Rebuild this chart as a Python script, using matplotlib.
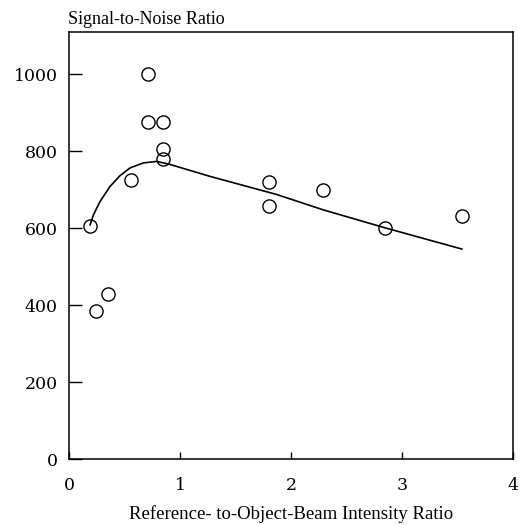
import matplotlib
matplotlib.use("Agg")
import matplotlib.pyplot as plt

# measured points
ratio = [0.19, 0.24, 0.35, 0.56, 0.71, 0.71, 0.85, 0.85, 0.85, 1.80, 1.80, 2.29, 2.85, 3.54]
snr = [605, 384, 430, 725, 1000, 877, 877, 806, 780, 720, 657, 699, 601, 633]

# fitted curve
fit_x = [0.19, 0.22, 0.28, 0.37, 0.46, 0.55, 0.67, 0.79, 0.91, 1.27, 1.87, 2.29, 2.85, 3.54]
fit_y = [609, 635, 670, 709, 737, 757, 770, 774, 766, 735, 688, 648, 601, 546]

xticks = [0, 1, 2, 3, 4]
yticks = [0, 200, 400, 600, 800, 1000]

fig = plt.figure(figsize=(5.31, 5.25), dpi=100)
ax = fig.add_axes([0.130, 0.1257, 0.836, 0.813])

ax.plot(fit_x, fit_y, color="black", lw=1.2)
ax.plot(ratio, snr, linestyle="none", marker="o", markersize=9.5,
        markerfacecolor="none", markeredgecolor="black", markeredgewidth=1.0)

ax.set_xlim(0, 4)
ax.set_ylim(0, 1110)
ax.set_xticks(xticks)
ax.set_yticks(yticks)
ax.tick_params(axis="x", direction="in", length=5, width=1, pad=13)
ax.tick_params(axis="y", direction="in", length=9, width=1, pad=8)
for lab in ax.get_xticklabels() + ax.get_yticklabels():
    lab.set_fontfamily("DejaVu Serif")
    lab.set_fontsize(12.5)
for s in ax.spines.values():
    s.set_linewidth(1.1)

ax.set_xlabel("Reference- to-Object-Beam Intensity Ratio", fontfamily="Liberation Serif",
              fontsize=13.5, labelpad=8)
fig.text(0.128, 0.962, "Signal-to-Noise Ratio", fontfamily="Liberation Serif",
         fontsize=13, ha="left", va="center")

fig.savefig("out.png", dpi=100)
